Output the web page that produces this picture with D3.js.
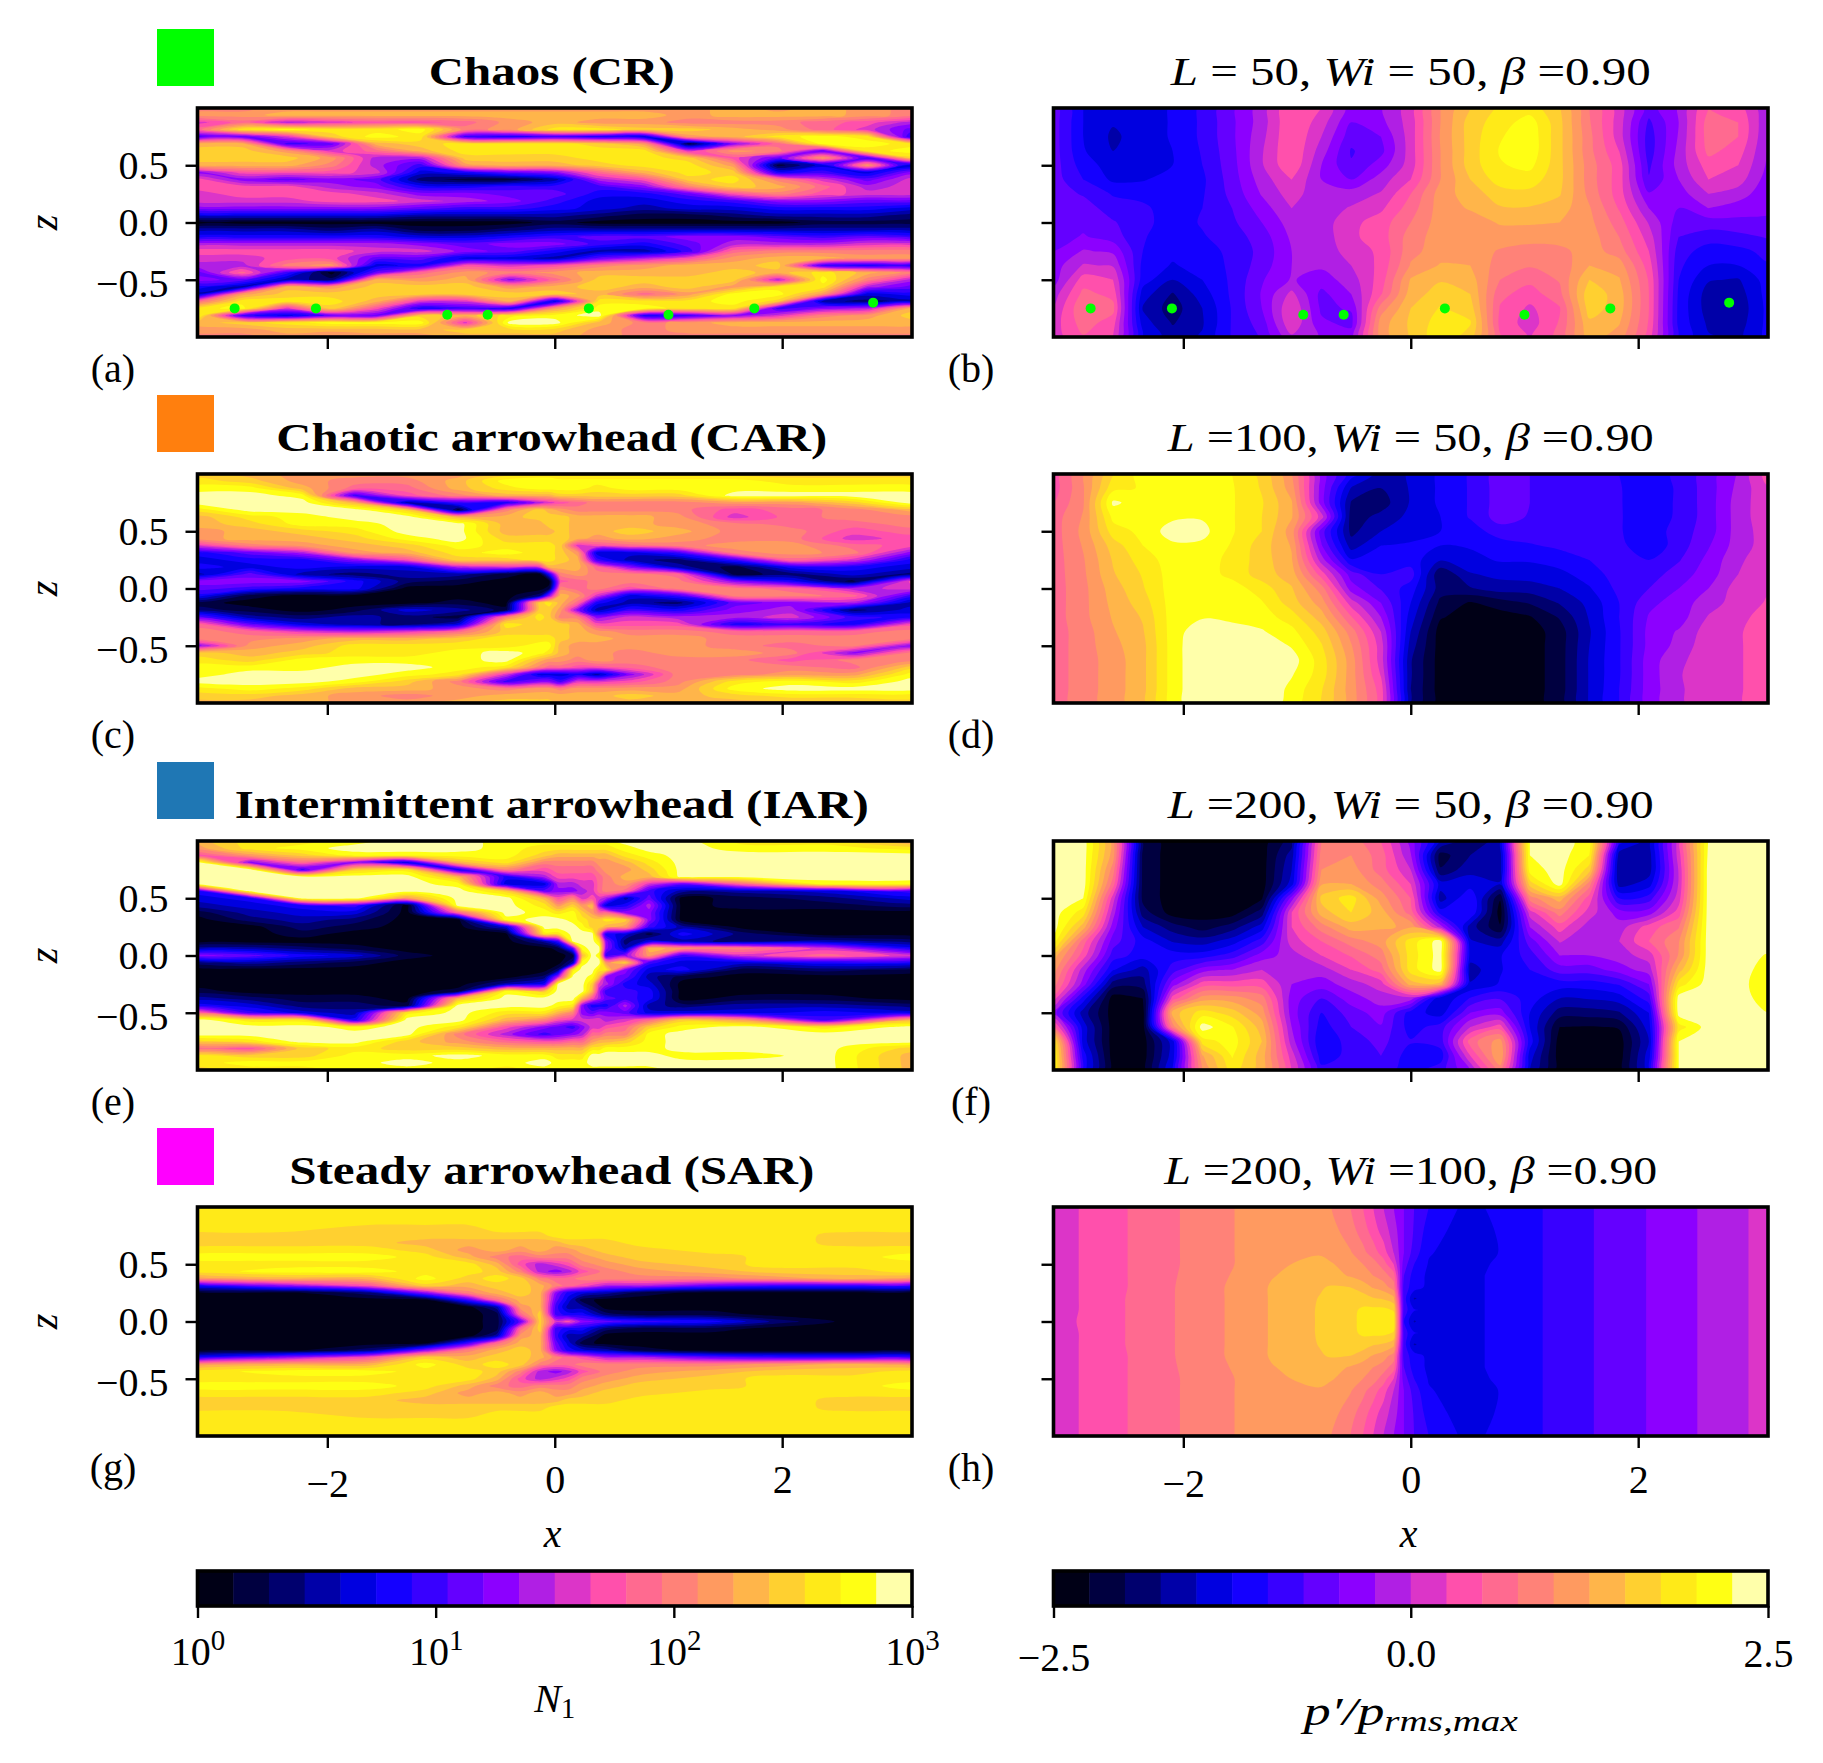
<!DOCTYPE html>
<html>
<head>
<meta charset="utf-8">
<script src="https://cdnjs.cloudflare.com/ajax/libs/d3/7.8.5/d3.min.js"></script>
<style>
  html, body { margin: 0; padding: 0; background: #fff; }
  text { font-family: "Liberation Serif", serif; fill: #000; }
</style>
</head>
<body>
<div id="chart"></div>
<script>
// the 20 colour bands of the two colorbars, index = band number used in the fields below
var bandColors = ["#000016", "#000040", "#00006e", "#0000a8", "#0000e0", "#1400ff", "#3800ff", "#6400ff", "#8c00ff", "#b01fe4",
  "#dc35c8", "#ff50ac", "#ff6a90", "#ff8278", "#ff9a60", "#ffb54a", "#ffd030", "#ffea18", "#ffff14", "#ffffaa"];

var xTicks = [-2, 0, 2];
var zTicks = [-0.5, 0, 0.5];
var n1Ticks = [1, 10, 100, 1000];
var pTicks = [-2.5, 0, 2.5];
var panelLetters = ["(a)", "(b)", "(c)", "(d)", "(e)", "(f)", "(g)", "(h)"];
var leftTitles = ["Chaos (CR)", "Chaotic arrowhead (CAR)", "Intermittent arrowhead (IAR)", "Steady arrowhead (SAR)"];
var titleL = ["= 50", "=100", "=200", "=200"];
var titleWi = ["= 50", "= 50", "= 50", "=100"];
var legendColors = ["#00ff00", "#ff7f0e", "#1f77b4", "#ff00ff"];

// green markers of panels (a) and (b)
var dotX = [-2.815, -2.10, -0.945, -0.59, 0.30, 1.00, 1.755, 2.80];
var dotZ = [-0.75, -0.75, -0.805, -0.805, -0.75, -0.805, -0.75, -0.70];

// grid positions of the columns that are not evenly spaced
var carX = [-3.14, -2.68, -2.22, -1.76, -1.30, -0.85, -0.43, -0.135, -0.05, 0.05, 0.20, 0.37, 0.66, 1.08, 1.58, 2.08, 2.62, 3.14];
var iarX = [-3.14, -2.68, -2.22, -1.76, -1.30, -0.85, -0.43, -0.09, 0.03, 0.16, 0.24, 0.33, 0.39, 0.45, 0.62, 0.83, 1.12, 1.66, 2.37, 3.14];
var sarX = [-3.14, -2.39, -1.64, -1.14, -0.76, -0.51, -0.30, -0.13, 0.01, 0.12, 0.24, 0.45, 0.74, 1.37, 1.99, 2.62, 3.14];
var sarPX = [-3.14, -2.92, -2.49, -2.03, -1.55, -1.22, -0.80, -0.70, -0.53, -0.42, -0.33, -0.24, -0.15, -0.06, 0.03, 0.16, 0.42, 0.53, 0.65, 1.16, 1.61, 2.07, 2.52, 2.97, 3.14];
var sarPZ = [1, 0.8, 0.6, 0.5, 0.4, 0.3, 0.2, 0.1, 0, -0.1, -0.2, -0.3, -0.4, -0.5, -0.6, -0.8, -1];

// fields, as colour band numbers, one array per column from z=1 down to z=-1
var crN1 = [
  [13,14,10,12,6,15,16,16,15,8,11,11,10,10,8,4,0,3,5,9,11,10,9,7,8,5,3,12,17,18,15,14,13],
  [13,14,12,17,7,15,16,16,15,11,8,11,11,10,8,4,0,3,5,9,11,10,9,12,7,3,14,17,18,6,16,14,13],
  [14,15,9,18,10,6,14,16,15,11,7,11,11,10,8,4,0,3,5,9,11,11,13,6,3,15,16,17,10,4,17,15,14],
  [14,15,10,17,16,7,10,14,13,11,8,9,11,11,8,4,0,2,5,9,11,11,14,0,2,14,16,17,16,7,18,15,13],
  [14,15,11,17,18,15,12,9,9,10,7,8,10,11,8,4,0,3,5,9,10,7,4,7,15,16,16,15,11,7,18,15,14],
  [14,15,11,18,17,16,15,9,6,4,2,5,8,10,7,3,0,1,4,8,10,7,5,12,14,16,16,10,5,16,18,15,14],
  [14,15,12,13,6,17,17,16,14,5,1,5,8,9,6,3,0,1,4,7,8,4,11,14,15,16,16,10,6,15,10,16,15],
  [14,15,14,14,5,17,17,16,15,7,1,6,7,8,6,3,0,2,5,8,7,4,10,13,8,14,16,15,5,17,19,16,15],
  [14,15,15,17,6,17,17,16,15,8,3,6,7,6,5,3,1,3,6,8,5,3,11,14,12,15,16,4,14,18,19,16,15],
  [14,15,14,17,5,16,17,17,16,12,9,6,5,4,4,2,0,3,7,6,3,7,13,15,16,16,15,17,18,19,15,14,14],
  [14,15,14,16,4,14,17,17,17,15,11,8,5,4,3,1,0,3,7,5,3,9,14,15,16,15,12,17,18,5,13,13,13],
  [14,14,13,16,14,1,10,16,17,17,16,13,7,5,4,1,0,3,8,7,6,11,15,15,16,16,14,17,17,6,14,14,13],
  [15,15,13,15,15,8,14,11,14,16,17,16,11,6,4,2,0,3,8,9,12,14,15,16,16,14,18,18,17,8,15,14,13],
  [14,15,13,14,17,12,13,7,1,5,13,15,13,8,5,3,0,3,7,9,13,15,16,15,9,17,18,16,6,10,15,14,13],
  [15,15,12,12,18,18,7,14,4,6,10,12,11,8,5,3,1,3,6,9,13,15,6,17,18,17,14,3,8,13,15,14,13],
  [14,14,11,10,17,18,17,6,14,4,7,9,10,7,5,3,1,3,7,10,13,14,5,15,13,9,4,2,9,14,15,14,13],
  [13,13,9,7,5,17,18,16,3,8,10,10,10,7,4,2,1,3,6,10,13,14,5,13,9,7,5,3,15,16,15,14,13]
];

var carN1 = [
  [16,17,18,19,19,17,15,15,14,14,10,5,4,5,3,8,7,5,1,2,7,12,13,13,8,16,17,18,18,19,17,16,15],
  [15,16,18,19,19,19,17,16,15,15,13,7,5,4,7,8,6,1,0,1,3,7,12,13,14,15,16,18,19,19,18,16,15],
  [14,14,15,18,19,19,18,18,16,15,14,9,5,5,3,8,5,0,0,0,2,4,10,14,15,16,18,18,19,19,17,15,15],
  [14,13,12,6,15,19,19,18,17,16,15,14,8,4,2,5,5,0,0,1,3,3,9,15,17,17,18,19,19,18,15,14,14],
  [14,13,12,11,3,16,19,19,19,18,16,15,11,4,3,2,0,0,0,4,2,2,10,15,17,17,18,19,18,16,15,13,14],
  [14,15,15,13,6,1,15,19,19,19,18,17,16,9,3,1,0,0,1,3,1,4,12,16,17,18,18,18,17,13,14,14,15],
  [16,18,17,15,5,13,15,15,15,16,17,18,16,10,1,0,0,0,0,1,13,17,16,17,17,19,19,17,10,6,13,15,16],
  [17,18,18,15,9,16,16,15,15,16,17,17,17,10,0,0,0,2,16,16,17,16,16,17,18,18,15,13,4,8,14,15,16],
  [17,18,18,15,10,15,16,16,15,16,17,17,17,15,5,0,1,8,17,16,16,16,16,17,18,17,14,12,4,8,14,15,16],
  [16,18,18,16,11,14,16,16,16,16,16,16,16,15,13,11,13,15,15,14,13,16,16,16,15,15,14,12,4,6,13,15,15],
  [16,18,18,16,12,13,15,15,15,15,10,14,15,15,14,12,12,14,12,8,13,15,15,15,14,14,13,11,5,10,14,15,15],
  [16,18,17,16,13,13,15,15,15,14,11,4,6,12,13,13,13,10,5,3,8,11,14,15,14,14,14,11,3,10,14,15,15],
  [16,18,18,16,13,13,15,15,16,15,12,4,3,8,13,13,11,4,3,6,10,11,13,14,14,13,13,12,8,11,14,16,15],
  [16,18,18,16,13,13,14,14,15,14,13,6,2,3,12,13,13,6,2,5,9,11,13,14,14,14,13,13,13,13,14,15,15],
  [16,18,18,19,14,11,10,13,13,13,14,13,6,1,1,8,13,13,7,8,9,5,12,13,13,14,13,13,13,17,18,16,15],
  [16,17,18,19,14,12,12,12,13,13,14,14,12,5,2,5,12,13,8,9,10,6,12,13,12,13,11,13,14,18,19,17,15],
  [16,17,18,19,16,13,13,12,11,10,12,13,10,5,4,1,9,12,9,2,6,5,12,13,13,8,13,12,14,17,19,17,15],
  [16,17,18,19,19,15,13,13,12,11,11,8,5,4,2,11,10,6,3,4,5,11,13,13,8,13,13,16,18,19,19,17,16]
];

var iarN1 = [
  [15,14,11,19,19,19,19,5,4,3,1,0,0,0,0,3,8,2,0,0,0,1,3,5,12,19,19,19,16,12,17,17,16],
  [17,17,14,8,19,19,19,19,5,4,3,2,0,0,0,3,7,3,0,0,0,0,2,4,6,17,19,19,17,11,16,18,17],
  [17,18,16,12,6,19,19,19,19,5,4,3,2,1,0,2,5,2,0,0,0,0,1,2,4,17,19,19,19,16,16,18,17],
  [18,19,18,8,16,19,19,19,19,6,4,2,1,0,0,1,4,1,0,0,0,0,1,2,3,5,18,19,19,17,18,18,18],
  [19,19,18,4,17,19,19,19,14,0,0,0,0,0,0,0,1,0,0,0,0,0,0,1,17,19,19,19,16,16,18,19,18],
  [19,19,18,15,5,15,18,19,19,19,12,0,0,0,0,0,0,0,0,0,0,1,15,19,19,19,17,13,14,16,19,18,18],
  [18,18,18,17,13,5,4,16,19,19,19,18,4,0,0,0,0,0,0,0,3,18,19,19,17,15,11,9,12,15,18,18,17],
  [18,17,16,13,11,9,4,7,15,17,18,19,19,17,3,0,0,0,0,2,5,16,19,19,17,13,8,6,11,15,18,19,18],
  [18,17,15,13,12,11,9,8,11,14,17,19,19,17,6,1,0,0,2,9,19,19,19,18,15,11,7,7,11,15,17,18,18],
  [18,17,15,13,12,11,9,8,13,16,18,18,19,19,19,7,1,3,17,19,19,19,19,17,13,10,6,8,12,15,17,18,18],
  [18,17,15,13,12,11,10,9,10,14,16,17,18,19,19,18,15,18,19,19,19,19,15,8,8,10,8,9,12,15,17,18,18],
  [18,17,15,13,12,11,10,10,11,15,14,16,16,19,19,19,19,19,19,18,16,15,11,5,7,10,10,12,14,17,19,19,18],
  [18,17,15,14,13,12,12,12,10,8,12,16,16,13,17,19,18,19,17,15,10,9,9,5,8,10,10,12,15,17,19,19,18],
  [18,17,15,14,14,13,13,13,9,4,12,17,15,5,8,8,6,14,17,8,9,6,7,5,8,9,11,13,15,18,19,19,18],
  [19,18,17,15,14,15,14,12,3,5,8,16,14,4,2,3,8,16,8,7,5,6,6,9,7,10,12,13,16,18,19,19,18],
  [19,19,18,17,16,15,10,6,7,9,8,8,6,1,4,15,14,6,4,3,4,5,5,3,4,12,16,18,18,18,19,19,18],
  [19,19,19,19,19,19,7,3,0,0,0,0,3,5,3,14,6,4,5,1,0,0,0,2,4,16,18,19,19,19,18,19,19],
  [17,18,19,19,19,19,12,3,1,1,0,0,0,2,2,13,10,4,1,0,0,0,1,3,4,14,19,19,19,19,18,19,19],
  [17,18,19,19,19,19,18,4,2,1,0,0,0,0,3,10,12,5,2,0,0,0,1,3,5,6,17,19,19,19,19,19,19],
  [14,17,19,19,19,19,18,6,4,2,0,0,0,0,2,5,10,5,1,0,0,0,0,2,4,15,19,19,19,16,15,15,15]
];

var sarN1 = [
  [17,17,17,17,16,16,17,18,17,17,14,5,0,0,0,0,0,0,0,0,0,5,14,17,17,18,17,16,16,17,17,17,17],
  [17,17,17,17,16,16,17,18,17,18,15,8,0,0,0,0,0,0,0,0,0,8,15,18,17,18,17,16,16,17,17,17,17],
  [17,17,17,16,16,16,17,18,17,18,15,11,2,0,0,0,0,0,0,0,2,11,15,18,17,18,17,16,16,16,17,17,17],
  [17,17,17,16,16,15,16,17,17,17,18,16,8,0,0,0,0,0,0,0,8,16,18,17,17,17,16,15,16,16,17,17,17],
  [17,17,17,16,16,15,14,15,17,17,16,15,13,6,0,0,0,0,0,6,13,15,16,17,17,15,14,15,16,16,17,17,17],
  [17,17,17,17,16,15,15,13,15,16,17,16,15,12,3,1,1,1,3,12,15,16,17,16,15,13,15,15,16,17,17,17,17],
  [17,17,17,17,16,15,14,12,11,13,16,16,16,15,14,12,7,12,14,15,16,16,16,13,11,12,14,15,16,17,17,17,17],
  [17,17,17,17,16,15,15,13,9,9,13,15,15,15,15,16,16,16,15,15,15,15,13,9,9,13,15,15,16,17,17,17,17],
  [17,17,17,17,17,15,14,13,10,8,12,13,8,7,6,6,10,6,6,7,8,13,12,8,10,13,14,15,17,17,17,17,17],
  [17,17,17,17,17,16,14,13,11,9,12,12,5,4,3,5,11,5,3,4,5,12,12,9,11,13,14,16,17,17,17,17,17],
  [17,17,17,17,17,16,15,14,13,11,13,11,4,1,3,5,8,5,3,1,4,11,13,11,13,14,15,16,17,17,17,17,17],
  [17,17,17,17,17,16,16,15,14,13,13,9,3,0,0,2,7,2,0,0,3,9,13,13,14,15,16,16,17,17,17,17,17],
  [17,17,17,17,17,17,16,16,15,14,13,9,1,0,0,1,6,1,0,0,1,9,13,14,15,16,16,17,17,17,17,17,17],
  [17,17,17,17,17,17,17,16,16,15,13,7,0,0,0,1,5,1,0,0,0,7,13,15,16,16,17,17,17,17,17,17,17],
  [17,17,17,17,17,17,17,17,17,16,14,6,0,0,0,0,2,0,0,0,0,6,14,16,17,17,17,17,17,17,17,17,17],
  [17,17,17,17,16,16,17,17,17,16,15,6,0,0,0,0,0,0,0,0,0,6,15,16,17,17,17,16,16,17,17,17,17],
  [17,17,17,17,16,16,17,18,17,17,14,6,0,0,0,0,0,0,0,0,0,6,14,17,17,18,17,16,16,17,17,17,17]
];

var crP = [
  [7,7,7,7,7,7,7,7,7,7,7.5,8,8,9,9.6,10,10],
  [4.5,4.5,4.5,4.6,5,5.5,6.4,7,7.2,7.6,8.6,9.6,11,11.8,12.4,12,11.4],
  [4,3.6,3.3,3.5,4,4.3,5.4,6,6.6,7,8.3,9.4,10.5,11.2,11.8,11,10.5],
  [4,4,4,4,4,4.4,5.2,5.7,5.8,5.6,5.5,5.2,5,4,3.4,4,4.4],
  [4.6,4.6,4.6,4.5,4.5,5,5,5,5,4.9,4.8,4.4,3.5,2.4,2,2.4,3],
  [5.7,5.7,5.7,5.6,5.5,5.3,5.4,5.5,5.6,5.4,5,4.9,4.5,4,3.5,3.4,3.6],
  [7.3,7.3,7.3,7.2,7.1,7,6.8,6.5,6.3,6,5.8,5.7,5.7,5.7,5.6,5.6,5.6],
  [9,9,9.2,9.4,9.4,9,8.6,8,7.5,7,6.8,7,7.4,7.6,7.5,7,6.6],
  [11.5,11.5,11.5,11.5,11.4,10.5,10,9.5,9,8.7,8.5,8.5,8.6,9.8,10.5,10.4,9.3],
  [10.5,10,9.5,9,8.5,8.5,8.7,9,9,8.9,8.8,8.7,8,7.2,7.3,7.7,8.4],
  [8,7.5,6.9,6.4,6.6,7.5,9,9.6,10.2,10.3,10,9.5,9,8.5,7.6,7.2,8],
  [8.4,8.2,7.5,7.2,8,9,9.6,10.3,11,11,10.7,10.8,11,11.4,13,14,14],
  [10,10,10,10,10,10.5,11.5,12,12.5,13,13.2,13.6,14.6,15,15.5,15.7,15.6],
  [13.5,13.5,13.6,13.5,13.5,13.5,14,14,14,14,14,14.6,15.4,16,16.6,17,17.2],
  [15.5,16,16,16,16,15.5,15,14.6,14,14,14,14.5,15,15.5,16,16.6,16],
  [16.7,17,17.4,17.6,17.4,17,16,15.4,14.6,14,13.4,13,12.5,11.8,11.4,11.2,11.6],
  [17,18,18.2,18.2,17.8,17,16.2,15.4,14.6,14,13,12.6,11.8,11,10.3,10,10.4],
  [15.6,15.8,15.8,15.8,15.8,15.8,15.6,15,14.5,14,13.2,12.8,12.6,12.2,11.4,11.6,11.8],
  [12.5,12.6,12.8,12.8,13,13,13.2,13.6,13.8,14,14,14.5,15.5,16.2,16,15.3,15],
  [10,10,10,10.5,11,11,11,11.4,12,12.5,13,14,14.6,15,15,14.6,14],
  [7,6.3,6,6,6.3,6.6,7.6,8.5,9.4,10,10.5,11,11.4,11.5,11.5,11.4,11],
  [8.6,8.5,8.6,8.8,8.9,8.5,8,7.5,7,6.5,6,5.7,5.5,5.3,5.2,5.2,5.3],
  [11.5,12,12,11.8,11,10.5,9.5,8.5,7,6,5,4.5,3.6,3,3,3.3,3.6],
  [11,11.5,11.5,11,10.5,10,9,8,7.2,6.2,5.2,4.5,3.4,3,2.8,3,3.2],
  [8.6,8.6,8.5,8.4,8.3,8,7.8,7.6,7.4,6.6,5.8,5.4,5,4.9,4.8,4.8,4.8]
];

var carP = [
  [11,11,11.5,12,12,12,12,12,12,12,12,12,12,12,12,12,12],
  [13.4,13.4,13.4,13.6,13.8,13.6,13.4,13.3,13.2,13.2,13.2,13,13,13,13,13,13],
  [16.4,17.2,18.7,17.8,17,16,15.6,15.4,15,14.8,14.6,14.4,14.2,14,14,14,14],
  [18,17.6,18,18,17.8,17.5,17,16.6,16.4,16,15.6,15.4,15.2,15.2,15.2,15.2,15.2],
  [18,18,18,18.3,19,18.3,18,18,18,18,18,18,18,18,18,18,18],
  [18,18,18,18.4,18.8,18.3,18,18,18,18,18.4,19.2,19.5,19.5,19.5,19.5,19.5],
  [17.5,17.6,17.6,17.6,17.6,17.4,17.2,17.2,18,18,18.2,19,19.5,19.5,19.5,19.5,19.5],
  [16.2,16.4,16.6,16.5,16.5,16,16,16,17,17.6,18,18.6,19.3,19.5,19.5,19.5,19.5],
  [13.6,14,14.6,14.6,14,14.4,14.6,15,15.6,16,17,17.8,18.4,19,18.6,18.2,18],
  [8,8,8,10,7,7.6,9,11,13,14,15,16,16.6,17,17,16.6,16.4],
  [5,3.4,2.4,2,2.2,3,4.6,7,8,10,11.6,13,13.6,14,14,14,14],
  [3,2.5,2,2.8,3.5,4.5,4.5,5.5,6.4,7.5,8.5,9.5,10,10,10.4,11,11],
  [3.6,3.6,3.6,3.8,4.2,4.6,5,6,5,4.5,4,3.5,3,2.6,2.6,2.5,2.4],
  [4.7,4.7,4.7,4.5,4.5,4.5,3.6,1.6,2,1.2,0.6,0,0,0,0,0,0],
  [5.6,5.6,5.6,5.6,5,4.6,4.2,3.4,2.4,0.4,0,0,0,0,0,0,0],
  [7,7,7,7,6,5,4.6,3.8,3,1,0,0,0,0,0,0,0],
  [6.5,6.5,6.5,6.4,6,5.4,4.6,4,3,1.6,0.4,0,0,0,0,0,0],
  [6,6,6,6,6,5.7,5,4.2,3.5,2.6,1.6,1,1,1,1,1,1],
  [6,6,6,6,6,5.8,5.5,5,4.4,3.8,3.6,3.4,3.5,3.6,3.6,3.6,3.6],
  [5.5,5.6,5.6,5.6,5.6,5.8,6,6,5.8,5.5,5.5,5.4,5.4,5.4,5.4,5.5,5.5],
  [5,4.6,4.7,4.8,4.8,4.7,5.5,6,6.5,7.2,7.6,7.8,7.8,8,8,8,8],
  [5.7,5.7,5.7,5.7,6,6,6.4,7,7.5,8,8,8.6,8.8,9.3,9.4,9.3,9.3],
  [7,7,7,7,7,7.4,7.8,8,8.5,9,9.6,10,10.2,10,10.2,10.3,10.2],
  [8.6,8.8,9,9,9,9,9.3,9.5,10,10,10.3,10.4,10.4,10.4,10.4,10.4,10.4],
  [11,10.4,10.2,10.2,10,10,10.2,10.2,10.4,10.6,10.8,11,11,11,11,11,11]
];

var iarP = [
  [19,19,19,19,19,19,19,18,15,14,13,11,8,12,17,18,18],
  [19,19,19,19,18.5,17,15,12,11,9,8,5,3,4,4,5,5],
  [14,14,13,12,10,9,8,7,6,4.6,2,0,0,0,0,0,0],
  [1.2,1.2,1.2,1.2,1.2,2,3.5,5,5,3,2,0.5,0,0,0,0,0],
  [0,0,0,0,0,0,2,3.4,5,6,8,11,15,13,4,4,4.6],
  [0,0,0,0,0,0,1,3,5,8,11,14,17,19,17,14.4,13.5],
  [0,0,0,0,0,0,2,4,6,8.5,11,14,16,17.6,18,17.6,17],
  [0,0,0,0,0.4,2,4,6,8,9.5,11,13,14,15,15.5,15,15],
  [2,3,3.5,4,8,10.5,10.5,10,9,9,8.5,8,8,8.5,9,10,10.5],
  [12.5,13,13.5,14.4,15.8,15,13,11.5,10.5,9,8,6.5,5.5,5,4.6,5,5.8],
  [13,13.5,14,14.5,17,16.5,15,13,11.6,10.5,9,8,7,6.5,6,5.8,5.8],
  [11.5,12,12,13,14,15,14.6,14,13,12,10,9,8,7.4,6.8,6.5,6],
  [8,8.6,9.5,10.5,11.5,12,14.4,17,17,17,15,9,5,5,5.6,5,5],
  [3.6,1,1.6,4,3,5,9,19,19,19,15,3.5,4,6,6,5,6],
  [1.6,2.5,3.2,4,5.5,5.5,3,3.6,4,3,3.6,5.6,7.5,9.5,12,10.5,8.5],
  [3,3,3,3.6,0.6,0,0.6,3,4.4,4.4,4.6,6.4,8,11,14,14.5,13],
  [18.5,18.5,18,16,13,10,8.5,7,6,5.5,5,5,4.5,4.5,5,4,3.5],
  [19,19,19,19,15,13,11,9.6,8.5,7,5,3.5,2,0.5,0,0,0],
  [18,17.5,16,13,11,10,9,8.7,8.5,7,5,3.6,2,0.4,0,0,0],
  [5,3,2.5,3,5.5,8,9,9.5,9,8,5.6,4,2.4,0.6,0,0,0],
  [3,3,3,4,6,8,11,11.5,10,9,7.5,6,4.5,4,3.5,4,4],
  [10,10,9.6,9.6,10,11,12.4,13.4,13.6,15,17,19,19,17,18.5,18.5,18.5],
  [18.6,18.8,19,19,19,19,19,19,19,19,19,19,19,19,19,19,19],
  [19,19,19,19,19,19,19,19,19,19,19,19,19,19,19,19,19],
  [19,19,19,19,19,19,19,19,18.4,18,17.6,18,18.5,19,19,19,19]
];

var sarP = [
  [10,10,10,10,10,10,10,10,10,10,10,10,10,10,10,10,10],
  [10.5,10.5,10.5,10.5,10.5,10.5,10.5,10.5,10.55,10.5,10.5,10.5,10.5,10.5,10.5,10.5,10.5],
  [11.5,11.5,11.5,11.5,11.5,11.5,11.55,11.55,11.55,11.55,11.55,11.5,11.5,11.5,11.5,11.5,11.5],
  [12.5,12.5,12.5,12.5,12.55,12.6,12.6,12.6,12.6,12.6,12.6,12.6,12.55,12.5,12.5,12.5,12.5],
  [13.5,13.5,13.5,13.5,13.6,13.7,13.7,13.7,13.7,13.7,13.7,13.7,13.6,13.5,13.5,13.5,13.5],
  [14,14,14.2,14.3,14.45,14.6,14.6,14.6,14.6,14.6,14.6,14.6,14.45,14.3,14.2,14,14],
  [14.2,14.2,14.4,14.8,15,15.4,15.55,15.6,15.6,15.6,15.55,15.4,15,14.8,14.4,14.2,14.2],
  [13.5,13.9,14.1,14.6,14.9,15.6,15.8,15.9,15.9,15.9,15.8,15.6,14.9,14.6,14.1,13.9,13.5],
  [12.5,12.9,13.6,14,14.4,15.5,16,16.2,16.2,16.2,16,15.5,14.4,14,13.6,12.9,12.5],
  [11.5,12,12.8,13.5,14,15,16,16.7,16.8,16.7,16,15,14,13.5,12.8,12,11.5],
  [10.5,11,12,13,13.5,14.4,15.6,16.8,17,16.8,15.6,14.4,13.5,13,12,11,10.5],
  [9.5,10,11,12,13,14,15.4,16.8,17.2,16.8,15.4,14,13,12,11,10,9.5],
  [8.5,9,9.5,10.5,12,13,14.8,16.4,17.2,16.4,14.8,13,12,10.5,9.5,9,8.5],
  [7.5,7.5,7.5,7,6.5,6,6,6,5.5,6,6,6,6.5,7,7.5,7.5,7.5],
  [6.5,6.4,6,5.5,5,5,3.4,4.6,3.4,4.6,3.4,5,5,5.5,6,6.4,6.5],
  [5.5,5,4.6,4.4,4.3,4.2,4,4.2,4.2,4.2,4,4.2,4.3,4.4,4.6,5,5.5],
  [4.5,4.2,4,4,4,4,4,4,4,4,4,4,4,4,4,4.2,4.5],
  [4.2,4,4,4,4,4,4,4,4,4,4,4,4,4,4,4,4.2],
  [4.5,4.3,4.2,4.4,4.5,4.5,4.5,4.5,4.5,4.5,4.5,4.5,4.5,4.4,4.2,4.3,4.5],
  [5.5,5.5,5.5,5.5,5.5,5.5,5.5,5.5,5.5,5.5,5.5,5.5,5.5,5.5,5.5,5.5,5.5],
  [6.5,6.5,6.5,6.5,6.5,6.5,6.5,6.5,6.5,6.5,6.5,6.5,6.5,6.5,6.5,6.5,6.5],
  [7.5,7.5,7.5,7.5,7.5,7.5,7.5,7.5,7.5,7.5,7.5,7.5,7.5,7.5,7.5,7.5,7.5],
  [8.5,8.5,8.5,8.5,8.5,8.5,8.5,8.5,8.5,8.5,8.5,8.5,8.5,8.5,8.5,8.5,8.5],
  [9.5,9.5,9.5,9.5,9.5,9.5,9.5,9.5,9.5,9.5,9.5,9.5,9.5,9.5,9.5,9.5,9.5],
  [10,10,10,10,10,10,10,10,10,10,10,10,10,10,10,10,10]
];

// evenly spaced grids of the other panels
var evenX17 = d3.range(17).map(function(i) { return -Math.PI + i * 2 * Math.PI / 16; });
var evenX25 = d3.range(25).map(function(i) { return -Math.PI + i * 2 * Math.PI / 24; });
var evenZ33 = d3.range(33).map(function(j) { return 1 - j / 16; });
var evenZ17 = d3.range(17).map(function(j) { return 1 - j / 8; });

// layout of the figure
var width = 1823, height = 1763;
var colLeft = [197.5, 1053.5];
var panelW = 714.5, panelH = 229;
var rowTop = [108, 474, 841, 1207];
var barTop = 1571, barH = 35;
var frameWidth = 3.6, tickLen = 12;
var fontSize = 40;

var leftTitleW = [246, 551, 634, 525];
var rightTitleW = [480, 486, 486, 493];

var svg = d3.select("#chart").append("svg")
  .attr("width", width)
  .attr("height", height)
  .style("display", "block");

var defs = svg.append("defs");
var thresholds = d3.range(1, 20).map(function(d) { return d - 0.5; });
var clipCount = 0;

/**
 * one filled contour panel, cols holds one array per x position
 */
function drawField(g, cols, xs, zs, xScale, zScale) {
  var n = cols.length, m = cols[0].length;
  cols.forEach(function(c, i) {
    if (c.length != m) throw new Error("column " + i + " has length " + c.length);
  });
  if (xs.length != n || zs.length != m) throw new Error("grid size mismatch " + n + " " + m);

  var values = [];
  for (var j = 0; j < m; j++) {
    for (var i = 0; i < n; i++) values.push(cols[i][j]);
  }

  // d3.contours puts grid point i at i + 0.5, the half cell outside the grid falls under the clip
  var colPos = d3.scaleLinear().domain(d3.range(n)).range(xs);
  var rowPos = d3.scaleLinear().domain(d3.range(m)).range(zs);

  // rounded contour lines instead of the straight pieces between grid lines
  var ringLine = d3.line()
    .x(function(p) { return xScale(colPos(p[0] - 0.5)); })
    .y(function(p) { return zScale(rowPos(p[1] - 0.5)); })
    .curve(d3.curveCatmullRomClosed.alpha(0.5));

  function contourPath(d) {
    var out = "";
    d.coordinates.forEach(function(polygon) {
      polygon.forEach(function(ring) {
        out += ringLine(ring.slice(0, -1));
      });
    });
    return out;
  }

  var id = "clip" + (clipCount++);
  defs.append("clipPath").attr("id", id).append("rect")
    .attr("x", xScale.range()[0]).attr("y", zScale.range()[1])
    .attr("width", xScale.range()[1] - xScale.range()[0])
    .attr("height", zScale.range()[0] - zScale.range()[1]);

  var field = g.append("g").attr("clip-path", "url(#" + id + ")");
  field.append("rect")
    .attr("x", xScale.range()[0]).attr("y", zScale.range()[1])
    .attr("width", xScale.range()[1] - xScale.range()[0])
    .attr("height", zScale.range()[0] - zScale.range()[1])
    .attr("fill", bandColors[0]);

  field.selectAll("path")
    .data(d3.contours().size([n, m]).thresholds(thresholds)(values))
    .enter().append("path")
    .attr("d", contourPath)
    .attr("fill", function(d, i) { return bandColors[i + 1]; });
}

// negative labels sit a little lower in the original
function lowerNegatives(sel) {
  sel.selectAll(".tick text")
    .attr("font-size", fontSize)
    .attr("transform", function(d) { return d < 0 ? "translate(0,4)" : null; });
}

function styleAxis(axisG) {
  axisG.select(".domain").remove();
  axisG.selectAll(".tick line").attr("stroke", "#000").attr("stroke-width", 2.4);
}

function drawFrame(g, x, y, w, h) {
  g.append("rect")
    .attr("x", x).attr("y", y).attr("width", w).attr("height", h)
    .attr("fill", "none").attr("stroke", "#000").attr("stroke-width", frameWidth);
}

function drawPanel(row, col, cols, xs, zs) {
  var left = colLeft[col], top = rowTop[row];
  var x = d3.scaleLinear().domain([-Math.PI, Math.PI]).range([left, left + panelW]);
  var z = d3.scaleLinear().domain([-1, 1]).range([top + panelH, top]);
  var g = svg.append("g");

  drawField(g, cols, xs, zs, x, z);

  if (row == 0) {
    g.selectAll(".dot")
      .data(dotX)
      .enter().append("circle")
      .attr("class", "dot")
      .attr("cx", function(d) { return x(d); })
      .attr("cy", function(d, i) { return z(dotZ[i]); })
      .attr("r", 5)
      .attr("fill", "#00ff00");
  }

  // x axis, labels only on the bottom row
  var xAxis = d3.axisBottom(x).tickValues(xTicks).tickSize(tickLen).tickPadding(16.5)
    .tickFormat(row == 3 ? d3.format("d") : "");
  var xG = g.append("g").attr("transform", "translate(0," + (top + panelH) + ")").call(xAxis);
  styleAxis(xG);
  lowerNegatives(xG);

  // z axis, labels only on the left column
  var zAxis = d3.axisLeft(z).tickValues(zTicks).tickSize(tickLen).tickPadding(17)
    .tickFormat(col == 0 ? d3.format(".1f") : "");
  var zG = g.append("g").attr("transform", "translate(" + left + ",0)").call(zAxis);
  styleAxis(zG);
  lowerNegatives(zG);

  drawFrame(g, left, top, panelW, panelH);

  if (col == 0) {
    g.append("text")
      .attr("transform", "translate(57," + (top + panelH / 2) + ") rotate(-90)")
      .attr("text-anchor", "middle")
      .attr("font-size", fontSize)
      .attr("font-style", "italic")
      .text("z");
  }

  // panel letter
  g.append("text")
    .attr("x", col == 0 ? 113 : 971)
    .attr("y", top + panelH + 45)
    .attr("text-anchor", "middle")
    .attr("font-size", fontSize)
    .text(panelLetters[row * 2 + col]);

  if (row == 3) {
    g.append("text")
      .attr("x", left + panelW / 2 - 2)
      .attr("y", 1547)
      .attr("text-anchor", "middle")
      .attr("font-size", fontSize)
      .attr("font-style", "italic")
      .text("x");
  }
}

function drawTitles(row) {
  var cx0 = colLeft[0] + panelW / 2 - 3, cx1 = colLeft[1] + panelW / 2;
  var y = rowTop[row] - 23;

  svg.append("text")
    .attr("x", cx0).attr("y", y)
    .attr("text-anchor", "middle")
    .attr("font-size", fontSize)
    .attr("font-weight", "bold")
    .attr("textLength", leftTitleW[row])
    .attr("lengthAdjust", "spacingAndGlyphs")
    .text(leftTitles[row]);

  var t = svg.append("text")
    .attr("x", cx1).attr("y", y)
    .attr("text-anchor", "middle")
    .attr("font-size", fontSize)
    .attr("textLength", rightTitleW[row])
    .attr("lengthAdjust", "spacingAndGlyphs");
  t.append("tspan").attr("font-style", "italic").text("L");
  t.append("tspan").text(" " + titleL[row] + ", ");
  t.append("tspan").attr("font-style", "italic").text("Wi");
  t.append("tspan").text(" " + titleWi[row] + ", ");
  t.append("tspan").attr("font-style", "italic").text("β");
  t.append("tspan").text(" =0.90");

  // coloured square next to the title
  var legendY = d3.scaleOrdinal().domain([0, 1, 2, 3]).range([29, 395, 762, 1128]);
  svg.append("rect")
    .attr("x", 157).attr("y", legendY(row))
    .attr("width", 57).attr("height", 57)
    .attr("fill", legendColors[row]);
}

function drawBar(left, axisScale, ticks, pad, format) {
  var g = svg.append("g");
  var band = d3.scaleLinear().domain([0, bandColors.length]).range([left, left + panelW]);

  g.selectAll(".band")
    .data(bandColors)
    .enter().append("rect")
    .attr("class", "band")
    .attr("x", function(d, i) { return band(i); })
    .attr("y", barTop)
    .attr("width", band(1) - band(0) + 0.5)
    .attr("height", barH)
    .attr("fill", function(d) { return d; });

  var axis = d3.axisBottom(axisScale).tickValues(ticks).tickSize(tickLen).tickPadding(pad).tickFormat(format);
  var axG = g.append("g").attr("transform", "translate(0," + (barTop + barH) + ")").call(axis);
  styleAxis(axG);
  lowerNegatives(axG);
  drawFrame(g, left, barTop, panelW, barH);
  return axG;
}

// eight panels
var leftFields = [crN1, carN1, iarN1, sarN1];
var leftX = [evenX17, carX, iarX, sarX];
var rightFields = [crP, carP, iarP, sarP];
var rightX = [evenX25, evenX25, evenX25, sarPX];
var rightZ = [evenZ17, evenZ17, evenZ17, sarPZ];

d3.range(4).forEach(function(row) {
  drawPanel(row, 0, leftFields[row], leftX[row], evenZ33);
  drawPanel(row, 1, rightFields[row], rightX[row], rightZ[row]);
  drawTitles(row);
});

// colorbar of N1
var n1Scale = d3.scaleLog().domain([1, 1000]).range([colLeft[0], colLeft[0] + panelW]);
var n1Axis = drawBar(colLeft[0], n1Scale, n1Ticks, 18.5, function() { return ""; });
n1Axis.selectAll(".tick text").each(function(d) {
  var t = d3.select(this);
  t.append("tspan").text("10");
  t.append("tspan").attr("font-size", 29).attr("dy", -15).text(Math.round(Math.log10(d)));
});

svg.append("text")
  .attr("x", colLeft[0] + panelW / 2).attr("y", 1712)
  .attr("text-anchor", "middle")
  .attr("font-size", fontSize)
  .call(function(t) {
    t.append("tspan").attr("font-style", "italic").text("N");
    t.append("tspan").attr("font-size", 29).attr("dy", 6).text("1");
  });

// colorbar of the pressure
var pScale = d3.scaleLinear().domain([-2.5, 2.5]).range([colLeft[1], colLeft[1] + panelW]);
drawBar(colLeft[1], pScale, pTicks, 20.5, d3.format(".1f"));

svg.append("text")
  .attr("x", colLeft[1] + panelW / 2).attr("y", 1725)
  .attr("text-anchor", "middle")
  .attr("font-size", fontSize)
  .attr("textLength", 214)
  .attr("lengthAdjust", "spacingAndGlyphs")
  .call(function(t) {
    t.append("tspan").attr("font-style", "italic").text("p′/p");
    t.append("tspan").attr("font-size", 29).attr("font-style", "italic").attr("dy", 6).text("rms,max");
  });
</script>
</body>
</html>
